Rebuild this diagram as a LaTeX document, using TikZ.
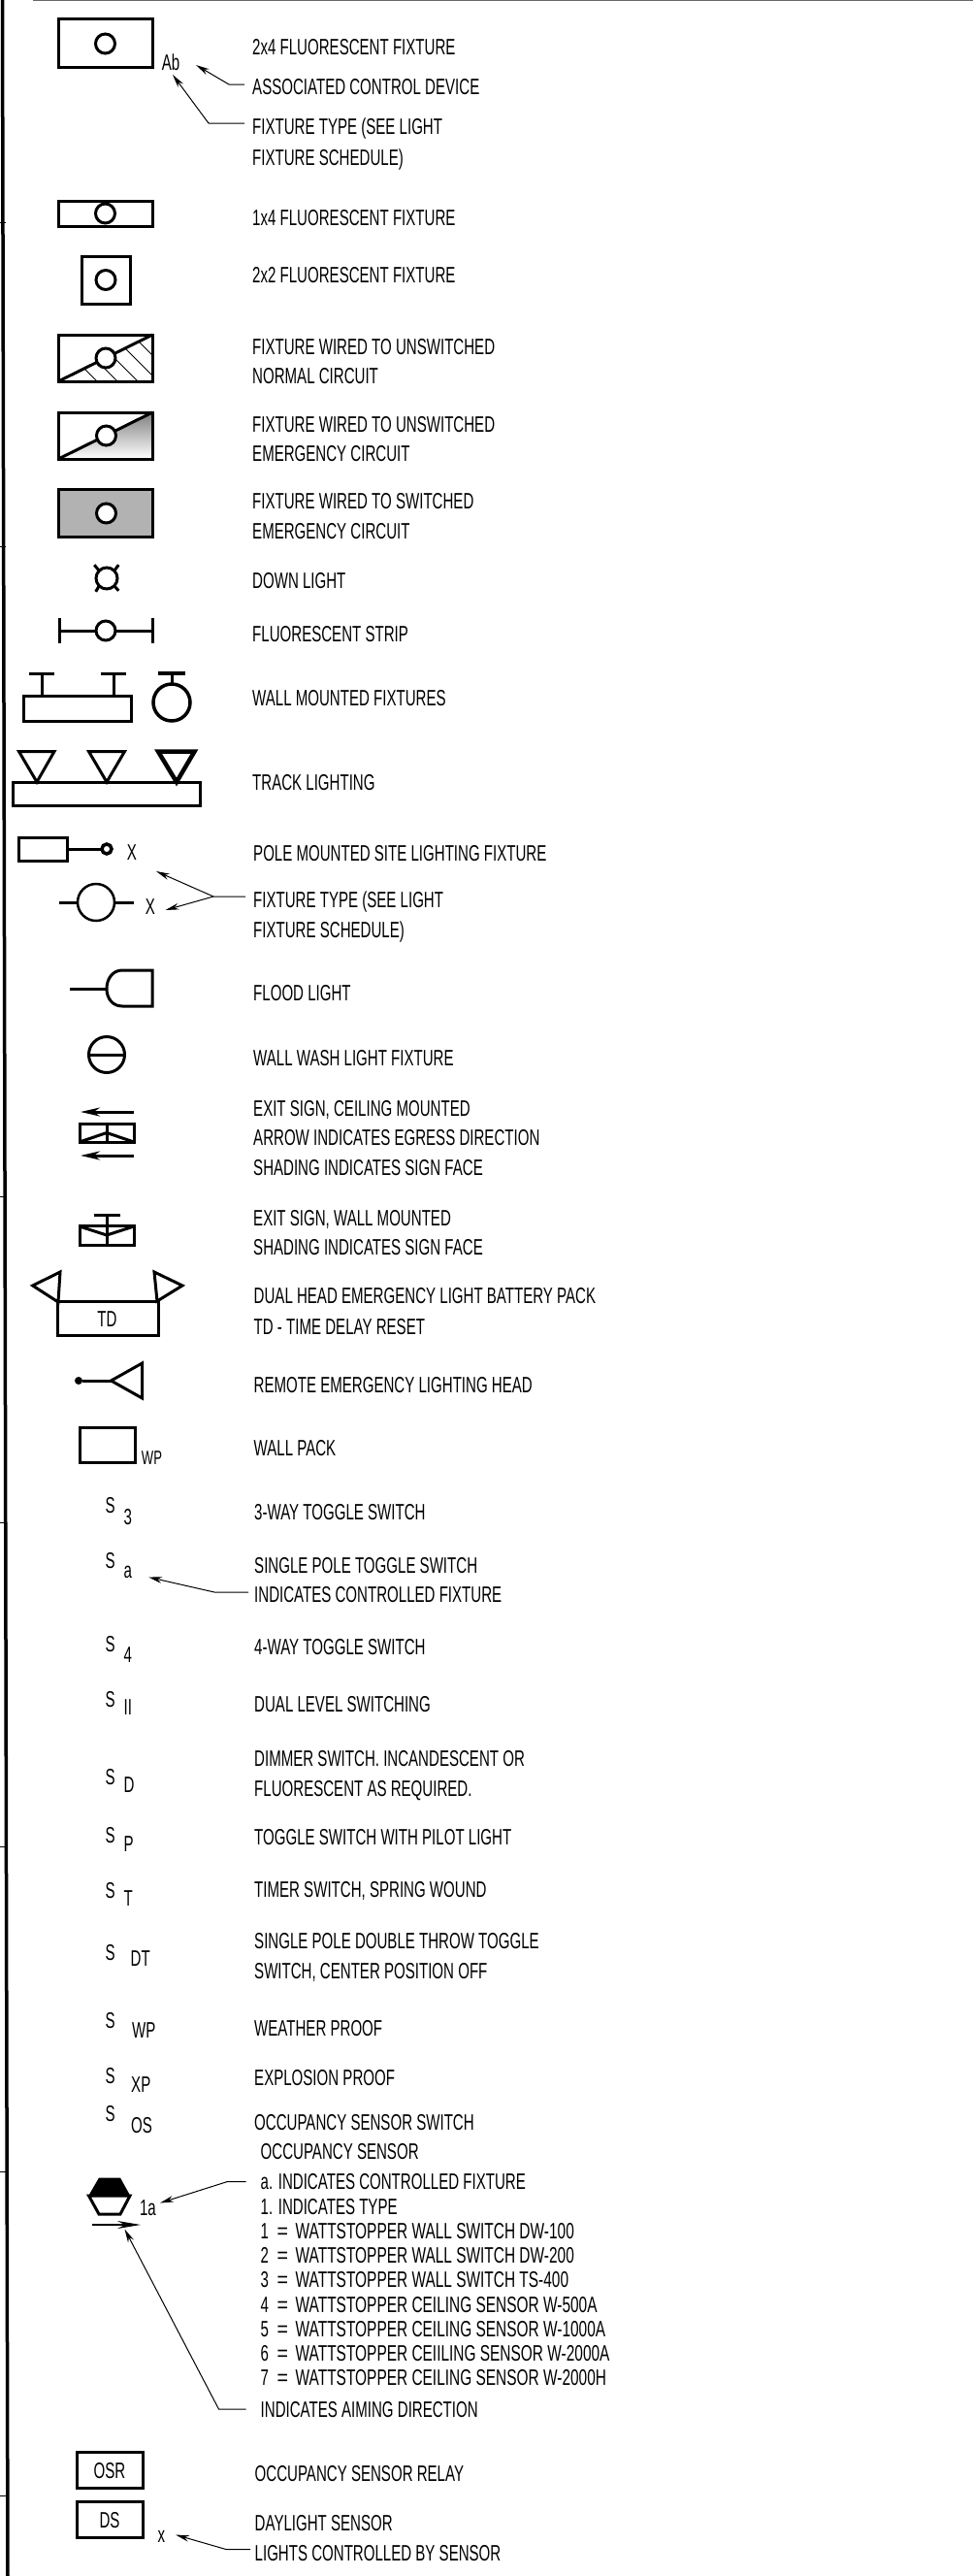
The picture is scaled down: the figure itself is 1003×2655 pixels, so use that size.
\documentclass[tikz,border=0pt]{standalone}
\usepackage{graphicx}
\usepackage{fontspec}
\setmainfont{Liberation Sans}[FakeStretch=0.655]
\usetikzlibrary{arrows.meta}
\definecolor{shade}{gray}{0.7}
\tikzset{
  txt/.style={anchor=west,inner sep=0pt,text height=16pt,text depth=0pt,font=\fontsize{23}{23}\selectfont},
  lbl/.style={inner sep=0pt,text height=16pt,text depth=0pt,font=\fontsize{23}{23}\selectfont},
  sb/.style={anchor=west,inner sep=0pt,text height=16pt,text depth=0pt,font=\fontsize{23}{23}\selectfont},
  sym/.style={draw=black,line width=3pt,line join=miter},
  thick3/.style={draw=black,line width=3pt},
  thin1/.style={draw=black,line width=1pt},
  box/.style={draw=black,line width=3pt,rectangle,inner sep=0pt,outer sep=0pt},
  lamp/.style={draw=black,line width=3pt,circle,fill=white,inner sep=0pt,outer sep=0pt,minimum size=20pt},
  leader/.style={draw=black,line width=1pt,-{Stealth[length=14pt,width=6.5pt]}},
}
\newcommand{\tl}[4]{\node[txt] (#1) at (#2,#3) {#4};}
\newcommand{\sw}[6]{\node[lbl,anchor=center] (#1s) at (113.6,#2) {S};\node[sb] (#1b) at (#3,#4) {#5};\node[txt] (#1t) at (262,#6) }
\newcommand{\wsl}[2]{\makebox[17pt][l]{#1}\makebox[19pt][l]{\scalebox{1.3}[1]{=}}\scalebox{1.025}[1]{#2}}
\begin{document}
\begin{tikzpicture}[x=1pt,y=-1pt]
\useasboundingbox (0,0) rectangle (1003,2655);
\fill[white] (0,0) rectangle (1003,2655);
% border
\coordinate (bt) at (2.5,0); \coordinate (bb) at (8,2655);
\draw[line width=3.5pt] (bt) -- (bb);
\coordinate (tl) at (34,0.7); \coordinate (tr) at (1003,0.7);
\draw[line width=1.4pt,draw=black!60] (tl) -- (tr);
\foreach \yy in {229,563,1233,1569,1903,2238,2572}{\draw[line width=0.7pt] (0,\yy) -- (6,\yy);}

% 2x4
\node[box,minimum width=97pt,minimum height=50pt] (f1) at (108.5,45) {};
\node[lamp] (f1c) at (108.5,45) {};
\node[lbl] (ab) at (176,64) {Ab};
\tl{t1}{260}{49}{2x4 FLUORESCENT FIXTURE}
\tl{t2}{260}{89}{ASSOCIATED CONTROL DEVICE}
\tl{t3}{260}{130}{FIXTURE TYPE (SEE LIGHT}
\tl{t4}{260}{162}{FIXTURE SCHEDULE)}
\coordinate (a1s) at (252,87); \coordinate (a1m) at (236,87); \coordinate (a1e) at (202,67);
\draw[leader] (a1s) -- (a1m) -- (a1e);
\coordinate (a2s) at (252,127); \coordinate (a2m) at (215,127); \coordinate (a2e) at (178,77);
\draw[leader] (a2s) -- (a2m) -- (a2e);

% 1x4
\node[box,minimum width=97pt,minimum height=26pt] (f2) at (108.5,220) {};
\node[lamp] (f2c) at (108.5,220) {};
\tl{t5}{260}{224}{1x4 FLUORESCENT FIXTURE}

% 2x2
\node[box,minimum width=50pt,minimum height=49pt] (f3) at (109,288.5) {};
\node[lamp] (f3c) at (109,288.5) {};
\tl{t6}{260}{283}{2x2 FLUORESCENT FIXTURE}

% unswitched normal
\node[box,minimum width=97pt,minimum height=48pt] (f4) at (108.75,369) {};
\begin{scope}
\clip (60,393) -- (157.5,345) -- (157.5,393) -- cycle;
\foreach \xx in {-8,13,34,55,76,97}{\draw[line width=1pt] (60+\xx,345) -- ++(50,50);}
\end{scope}
\draw[thick3] (f4.south west) -- (f4.north east);
\node[lamp] (f4c) at (109,369) {};
\tl{t7}{260}{357}{FIXTURE WIRED TO UNSWITCHED}
\tl{t8}{260}{387}{NORMAL CIRCUIT}

% unswitched emergency
\fill[shade] (60,473) -- (157.5,425) -- (157.5,473) -- cycle;
\node[box,minimum width=97pt,minimum height=48pt] (f5) at (108.75,449) {};
\draw[thick3] (f5.south west) -- (f5.north east);
\node[lamp] (f5c) at (109.5,449) {};
\tl{t9}{260}{437}{FIXTURE WIRED TO UNSWITCHED}
\tl{t10}{260}{467}{EMERGENCY CIRCUIT}

% switched emergency
\node[box,fill=shade,minimum width=97pt,minimum height=49pt] (f6) at (109,528.5) {};
\node[lamp] (f6c) at (109.5,529) {};
\tl{t11}{260}{516}{FIXTURE WIRED TO SWITCHED}
\tl{t12}{260}{547}{EMERGENCY CIRCUIT}

% down light
\node[lamp,minimum size=22pt] (dl) at (110,596) {};
\draw[thick3] (dl.45) -- ++(4.5,-6);
\draw[thick3] (dl.135) -- ++(-5,-6);
\draw[thick3] (dl.225) -- ++(-3.5,6);
\draw[thick3] (dl.315) -- ++(4.5,5);
\tl{t13}{260}{598}{DOWN LIGHT}

% fluorescent strip
\node[lamp] (fs) at (109,650) {};
\coordinate (fsl) at (61,650); \coordinate (fsr) at (157.5,650);
\draw[thick3] (fsl) -- (fs); \draw[thick3] (fs) -- (fsr);
\draw[thick3] (61,637) -- (61,663); \draw[thick3] (157.5,637) -- (157.5,663);
\tl{t14}{260}{653}{FLUORESCENT STRIP}

% wall mounted
\node[box,minimum width=111pt,minimum height=26pt] (wm) at (79.5,730) {};
\draw[thick3] (43,717) -- (43,694); \draw[thick3] (30,694) -- (56,694);
\draw[thick3] (117,717) -- (117,694); \draw[thick3] (104,694) -- (130,694);
\node[lamp,line width=3.5pt,minimum size=38pt] (wc) at (177,724) {};
\draw[thick3] (wc.north) -- (177,694); \draw[line width=4pt] (162.5,694) -- (190.5,694);
\tl{t15}{260}{719}{WALL MOUNTED FIXTURES}

% track lighting
\node[box,minimum width=193pt,minimum height=24pt] (tr1) at (109.5,818) {};
\draw[thick3] (19.5,774.5) -- (56,774.5) -- (38,806) -- cycle;
\draw[thick3] (91.5,774.5) -- (128.5,774.5) -- (110,806) -- cycle;
\draw[line width=4.5pt] (163,774.5) -- (200.5,774.5) -- (182,806) -- cycle;
\tl{t16}{260}{806}{TRACK LIGHTING}

% pole mounted
\node[box,minimum width=50pt,minimum height=24pt] (pm) at (44,875) {};
\node[lamp,line width=3.5pt,minimum size=10pt] (pc) at (110,875) {};
\draw[thick3] (pm) -- (pc);
\node[lbl] (px) at (136,878) {X};
\tl{t17}{261}{879}{POLE MOUNTED SITE LIGHTING FIXTURE}

\node[lamp,line width=2.5pt,minimum size=38pt] (ph) at (99,930) {};
\coordinate (phl) at (61,930); \coordinate (phr) at (138,930);
\draw[thick3] (phl) -- (ph); \draw[thick3] (ph) -- (phr);
\node[lbl] (phx) at (155,934) {X};
\tl{t18}{261}{927.5}{FIXTURE TYPE (SEE LIGHT}
\tl{t19}{261}{958}{FIXTURE SCHEDULE)}
\coordinate (a3s) at (253,924); \coordinate (a3m) at (220,924); \coordinate (a3e) at (161,898); \coordinate (a3f) at (170.5,938);
\draw[leader] (a3s) -- (a3m) -- (a3e);
\draw[leader] (a3m) -- (a3f);

% flood light
\coordinate (fll) at (72,1019); \coordinate (flm) at (110,1019);
\draw[thick3] (fll) -- (flm);
\draw[sym] (157,1000) -- (157,1037) -- (126,1037) .. controls (116,1037) and (110,1029) .. (110,1019) .. controls (110,1009) and (116,1000) .. (126,1000) -- cycle;
\tl{t20}{261}{1023}{FLOOD LIGHT}

% wall wash
\node[lamp,minimum size=37pt] (ww) at (110,1087) {};
\draw[thick3] (ww.west) -- (ww.east);
\tl{t21}{261}{1090.5}{WALL WASH LIGHT FIXTURE}

% exit ceiling
\node[box,minimum width=56pt,minimum height=18.5pt] (ex) at (110,1168) {};
\draw[thick3] (110,1159) -- (110,1177);
\draw[thick3] (82,1177) -- (110,1167.5) -- (138,1177);
\coordinate (ea1) at (138,1146); \coordinate (ea2) at (83,1146);
\coordinate (eb1) at (138,1191); \coordinate (eb2) at (83,1191);
\draw[line width=3pt,-{Stealth[length=20pt,width=9pt]}] (ea1) -- (ea2);
\draw[line width=3pt,-{Stealth[length=20pt,width=9pt]}] (eb1) -- (eb2);
\tl{t22}{261}{1142}{EXIT SIGN, CEILING MOUNTED}
\tl{t23}{261}{1172.5}{ARROW INDICATES EGRESS DIRECTION}
\tl{t24}{261}{1203.5}{SHADING INDICATES SIGN FACE}

% exit wall
\node[box,minimum width=56pt,minimum height=19.5pt] (ew) at (110,1273.5) {};
\draw[thick3] (110,1252) -- (110,1283);
\draw[thick3] (96.5,1252) -- (124,1252);
\draw[thick3] (82,1264) -- (110,1273) -- (138,1264);
\tl{t25}{261}{1255}{EXIT SIGN, WALL MOUNTED}
\tl{t26}{261}{1285}{SHADING INDICATES SIGN FACE}

% dual head
\node[box,minimum width=104pt,minimum height=34.5pt] (dh) at (111,1359) {};
\node[lbl] (dht) at (110.5,1359.5) {TD};
\draw[sym] (60,1342) -- (62,1311) -- (33.7,1325) -- cycle;
\draw[sym] (162,1341) -- (159,1311) -- (188,1325) -- cycle;
\tl{t27}{261.5}{1335.5}{DUAL HEAD EMERGENCY LIGHT BATTERY PACK}
\tl{t28}{261.5}{1367}{TD - TIME DELAY RESET}

% remote head
\node[circle,fill=black,inner sep=0pt,minimum size=8pt] (rd) at (81,1423) {};
\coordinate (rm) at (114.5,1423);
\draw[thick3] (rd) -- (rm);
\draw[sym] (114.5,1423) -- (146.5,1405) -- (146.5,1441) -- cycle;
\tl{t29}{261.5}{1427}{REMOTE EMERGENCY LIGHTING HEAD}

% wall pack
\node[box,minimum width=57pt,minimum height=36.5pt] (wp) at (110.5,1489.5) {};
\node[lbl,font=\fontsize{20}{20}\selectfont,text height=14pt] (wpx) at (156.5,1502) {WP};
\tl{t30}{261.5}{1492.5}{WALL PACK}

% switches
\sw{s1}{1551}{127.5}{1563}{3}{1558.5} {3-WAY TOGGLE SWITCH};
\sw{s2}{1608}{127.5}{1618}{a}{1613} {SINGLE POLE TOGGLE SWITCH};
\tl{t31}{262}{1643.5}{INDICATES CONTROLLED FIXTURE}
\coordinate (a4s) at (256,1641); \coordinate (a4m) at (221,1641); \coordinate (a4e) at (153,1625.5);
\draw[leader] (a4s) -- (a4m) -- (a4e);
\sw{s3}{1694}{127.5}{1705}{4}{1697.5} {4-WAY TOGGLE SWITCH};
\sw{s4}{1751}{127.5}{1759.5}{II}{1756} {DUAL LEVEL SWITCHING};
\sw{s5}{1831}{127.5}{1839.5}{D}{1812.5} {DIMMER SWITCH. INCANDESCENT OR};
\tl{t32}{262}{1843}{FLUORESCENT AS REQUIRED.}
\sw{s6}{1891.5}{127.5}{1900}{P}{1893} {TOGGLE SWITCH WITH PILOT LIGHT};
\sw{s7}{1948}{127.5}{1956}{T}{1947} {TIMER SWITCH, SPRING WOUND};
\sw{s8}{2012}{134.5}{2018.5}{DT}{2000} {SINGLE POLE DOUBLE THROW TOGGLE};
\tl{t33}{262}{2031}{SWITCH, CENTER POSITION OFF}
\sw{s9}{2082.5}{136}{2092}{WP}{2090.5} {WEATHER PROOF};
\sw{s10}{2139}{135}{2148}{XP}{2141} {EXPLOSION PROOF};
\sw{s11}{2178.5}{135}{2190}{OS}{2187} {OCCUPANCY SENSOR SWITCH};

% occupancy sensor
\tl{t34}{268.5}{2217}{OCCUPANCY SENSOR}
\tl{t35}{268.5}{2248.5}{a. INDICATES CONTROLLED FIXTURE}
\tl{t36}{268.5}{2274}{1. INDICATES TYPE}
\tl{t37}{268.5}{2299}{\wsl{1}{WATTSTOPPER WALL SWITCH DW-100}}
\tl{t38}{268.5}{2324}{\wsl{2}{WATTSTOPPER WALL SWITCH DW-200}}
\tl{t39}{268.5}{2349.5}{\wsl{3}{WATTSTOPPER WALL SWITCH TS-400}}
\tl{t40}{268.5}{2375}{\wsl{4}{WATTSTOPPER CEILING SENSOR W-500A}}
\tl{t41}{268.5}{2400}{\wsl{5}{WATTSTOPPER CEILING SENSOR W-1000A}}
\tl{t42}{268.5}{2425.5}{\wsl{6}{WATTSTOPPER CEIILING SENSOR W-2000A}}
\tl{t43}{268.5}{2450.5}{\wsl{7}{WATTSTOPPER CEILING SENSOR W-2000H}}
\tl{t44}{268.5}{2483}{INDICATES AIMING DIRECTION}
\fill[black] (102,2244.5) -- (124,2244.5) -- (134.5,2263.5) -- (91,2263.5) -- cycle;
\draw[line width=3pt] (91.5,2263) -- (134,2263) -- (124,2282) -- (102,2282) -- cycle;
\node[lbl] (oa) at (152.5,2275) {1a};
\coordinate (a5s) at (253.5,2248.5); \coordinate (a5m) at (234.5,2248.5); \coordinate (a5e) at (165,2270.5);
\draw[leader] (a5s) -- (a5m) -- (a5e);
\coordinate (a6s) at (94.5,2293); \coordinate (a6e) at (145,2293);
\draw[line width=1.2pt,-{Stealth[length=24pt,width=8pt]}] (a6s) -- (a6e);
\coordinate (a7s) at (253.5,2483); \coordinate (a7m) at (225.5,2483); \coordinate (a7e) at (128.5,2297.5);
\draw[leader] (a7s) -- (a7m) -- (a7e);

% OSR
\node[box,minimum width=68pt,minimum height=36.5pt] (osr) at (113,2546) {};
\node[lbl] (osrt) at (113,2546) {OSR};
\tl{t45}{262.5}{2549}{OCCUPANCY SENSOR RELAY}

% DS
\node[box,minimum width=68pt,minimum height=36.5pt] (ds) at (113,2597) {};
\node[lbl] (dst) at (113,2597) {DS};
\tl{t46}{262.5}{2600}{DAYLIGHT SENSOR}
\tl{t47}{262.5}{2631}{LIGHTS CONTROLLED BY SENSOR}
\node[lbl,text height=11pt] (dx) at (166.5,2615) {x};
\coordinate (a8s) at (258,2627.5); \coordinate (a8m) at (233,2627.5); \coordinate (a8e) at (181,2612.5);
\draw[leader] (a8s) -- (a8m) -- (a8e);
\end{tikzpicture}
\end{document}
